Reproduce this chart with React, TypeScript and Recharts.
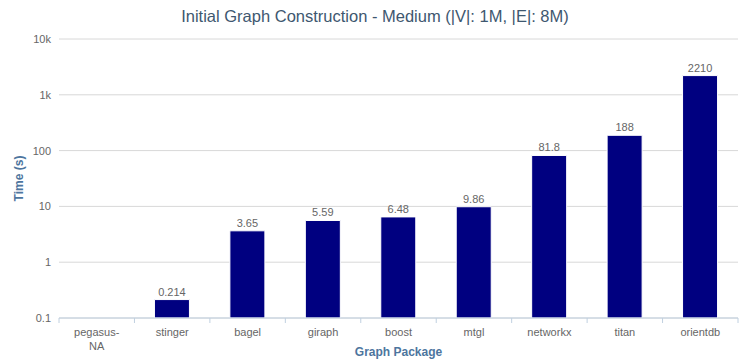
import React from 'react';
import { BarChart, Bar, XAxis, YAxis, CartesianGrid, LabelList, Label } from 'recharts';

const categories = ['pegasus-NA', 'stinger', 'bagel', 'giraph', 'boost', 'mtgl', 'networkx', 'titan', 'orientdb'];
const times: (number | null)[] = [null, 0.214, 3.65, 5.59, 6.48, 9.86, 81.8, 188, 2210];
const yTicks = [0.1, 1, 10, 100, 1000, 10000];
const yTickLabels = ['0.1', '1', '10', '100', '1k', '10k'];

const data = categories.map((c, i) => ({ name: c, time: times[i] }));

const FONT = '"Liberation Sans", Arial, sans-serif';

const XTick = (props: any) => {
  const { x, y, payload, index } = props;
  const off = payload.offset || 0;
  const label: string = payload.value;
  const lines = label.includes('-') ? [label.slice(0, label.indexOf('-') + 1), label.slice(label.indexOf('-') + 1)] : [label];
  return (
    <g>
      <line x1={x - off} x2={x - off} y1={y - 8} y2={y - 3} stroke="#C0D0E0" />
      {index === categories.length - 1 && (
        <line x1={x + off} x2={x + off} y1={y - 8} y2={y - 3} stroke="#C0D0E0" />
      )}
      <text x={x} y={y + 10} textAnchor="middle" fill="#666" fontSize={11} fontFamily={FONT}>
        {lines.map((l, i) => (
          <tspan key={i} x={x} dy={i === 0 ? 0 : 14}>{l}</tspan>
        ))}
      </text>
    </g>
  );
};

export default function App() {
  return (
    <div style={{ position: 'absolute', left: 0, top: 0, width: 747, height: 362, background: '#fff' }}>
      <svg style={{ position: 'absolute', left: 0, top: 0 }} width={747} height={30}>
        <text x={375} y={22} textAnchor="middle" fill="#3E576F" fontSize={16.5} fontFamily={FONT}>
          Initial Graph Construction - Medium (|V|: 1M, |E|: 8M)
        </text>
      </svg>
      <BarChart
        width={747}
        height={362}
        data={data}
        margin={{ top: 39, right: 9, bottom: 0, left: 0 }}
        barCategoryGap={0}
      >
        <CartesianGrid vertical={false} stroke="#D8D8D8" />
        <XAxis
          dataKey="name"
          tick={<XTick />}
          tickLine={false}
          axisLine={{ stroke: '#C0D0E0' }}
          interval={0}
          height={44}
        >
          <Label value="Graph Package" position="insideBottom" offset={6} fill="#4D759E" fontSize={12} fontWeight="bold" fontFamily={FONT} />
        </XAxis>
        <YAxis
          scale="log"
          type="number"
          domain={[0.1, 10000]}
          ticks={yTicks}
          allowDataOverflow
          width={59}
          tickLine={false}
          axisLine={false}
          tickSize={6}
          tickMargin={2}
          tick={{ fill: '#666', fontSize: 11, fontFamily: FONT }}
          tickFormatter={(v: number) => yTickLabels[yTicks.indexOf(v)] ?? String(v)}
        >
          <Label value="Time (s)" angle={-90} position="insideLeft" offset={19} fill="#4D759E" fontSize={12} fontWeight="bold" fontFamily={FONT} style={{ textAnchor: 'middle' }} />
        </YAxis>
        <Bar dataKey="time" fill="#000080" stroke="#ffffff" strokeWidth={1} barSize={35} isAnimationActive={false}>
          <LabelList dataKey="time" position="top" offset={4} fill="#666" fontSize={11} fontFamily={FONT} />
        </Bar>
      </BarChart>
    </div>
  );
}
